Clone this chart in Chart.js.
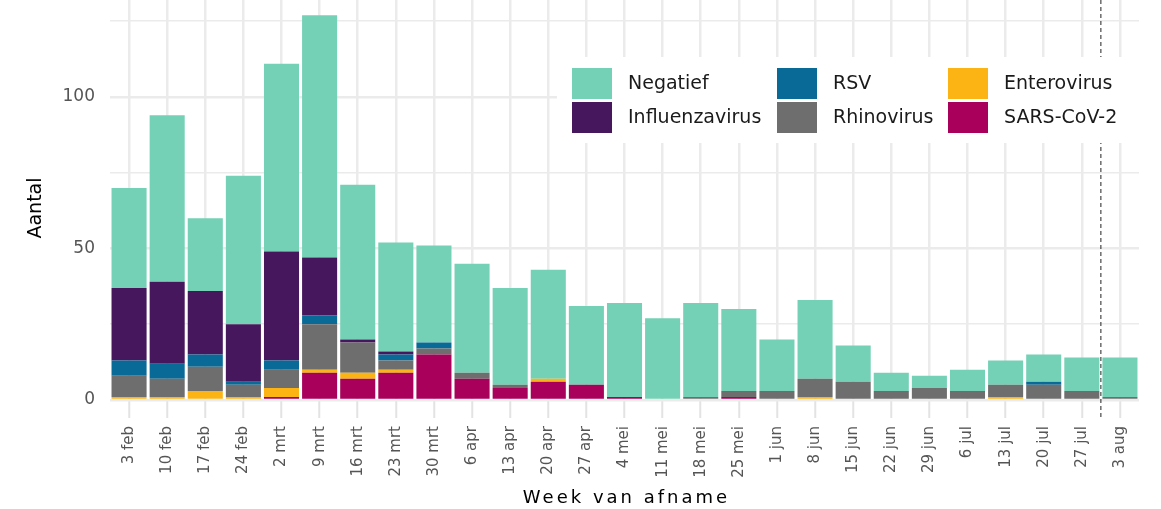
<!DOCTYPE html>
<html>
<head>
<meta charset="utf-8">
<script src="https://cdn.jsdelivr.net/npm/chart.js@4"></script>
<style>
  body { margin: 0; background: #fff; }
  #Wrap { width: 1161px; height: 509px; position: relative; }
</style>
</head>
<body>
<div id="Wrap"><canvas id="myChart"></canvas></div>
<script>
// * Data
const weeks = ["3 feb", "10 feb", "17 feb", "24 feb", "2 mrt", "9 mrt", "16 mrt", "23 mrt", "30 mrt",
  "6 apr", "13 apr", "20 apr", "27 apr", "4 mei", "11 mei", "18 mei", "25 mei", "1 jun", "8 jun",
  "15 jun", "22 jun", "29 jun", "6 jul", "13 jul", "20 jul", "27 jul", "3 aug"];

const sarsCov2 = [0, 0, 0, 0, 1, 9, 7, 9, 15, 7, 4, 6, 5, 1, 0, 0, 1, 0, 0, 0, 0, 0, 0, 0, 0, 0, 0];
const enterovirus = [1, 1, 3, 1, 3, 1, 2, 1, 0, 0, 0, 1, 0, 0, 0, 0, 0, 0, 1, 0, 0, 0, 0, 1, 0, 0, 0];
const rhinovirus = [7, 6, 8, 4, 6, 15, 10, 3, 2, 2, 1, 0, 0, 0, 0, 1, 2, 3, 6, 6, 3, 4, 3, 4, 5, 3, 1];
const rsv = [5, 5, 4, 1, 3, 3, 0, 2, 2, 0, 0, 0, 0, 0, 0, 0, 0, 0, 0, 0, 0, 0, 0, 0, 1, 0, 0];
const influenzavirus = [24, 27, 21, 19, 36, 19, 1, 1, 0, 0, 0, 0, 0, 0, 0, 0, 0, 0, 0, 0, 0, 0, 0, 0, 0, 0, 0];
const negatief = [33, 55, 24, 49, 62, 80, 51, 36, 32, 36, 32, 36, 26, 31, 27, 31, 27, 17, 26, 12, 6, 4, 7, 8, 9, 11, 13];

const yTicks = [0, 25, 50, 75, 100, 125];
const yLabels = [0, 50, 100];
const cutoffWeek = 25.5; // dashed line between 27 jul and 3 aug

// * Styles
const FONT = "'DejaVu Sans', sans-serif";
const colors = {
  Negatief: "#74d1b5",
  Influenzavirus: "#46175c",
  RSV: "#096a98",
  Rhinovirus: "#6e6e6e",
  Enterovirus: "#fcb414",
  "SARS-CoV-2": "#a8005b",
};

function makeSet(label, data) {
  return {
    label: label,
    data: data,
    backgroundColor: colors[label],
    borderWidth: 0,
    barPercentage: 0.92,
    categoryPercentage: 1,
  };
}

// * Plugins
const extras = {
  id: "extras",
  afterDatasetsDraw(chart) {
    const ctx = chart.ctx;
    const x = chart.scales.x.getPixelForValue(cutoffWeek);
    ctx.save();
    ctx.strokeStyle = "#222";
    ctx.lineWidth = 1;
    ctx.setLineDash([4, 3]);
    ctx.beginPath();
    ctx.moveTo(x, chart.chartArea.top);
    ctx.lineTo(x, chart.chartArea.bottom + 19);
    ctx.stroke();
    ctx.restore();
  },
  afterDraw(chart) {
    const ctx = chart.ctx;
    const area = chart.chartArea;
    ctx.save();

    // legend box
    ctx.fillStyle = "#fff";
    ctx.fillRect(557, 57, 586, 86);
    const order = ["Negatief", "Influenzavirus", "RSV", "Rhinovirus", "Enterovirus", "SARS-CoV-2"];
    const colX = [572, 777, 948];
    const rowY = [68, 102];
    ctx.font = "19px " + FONT;
    ctx.textBaseline = "middle";
    ctx.textAlign = "left";
    order.forEach((name, i) => {
      const cx = colX[Math.floor(i / 2)];
      const cy = rowY[i % 2];
      ctx.fillStyle = colors[name];
      ctx.fillRect(cx, cy, 40, 31);
      ctx.fillStyle = "#1a1a1a";
      ctx.fillText(name, cx + 56, cy + 16);
    });

    // axis titles
    ctx.fillStyle = "#000";
    ctx.font = "18px " + FONT;
    ctx.textAlign = "center";
    ctx.letterSpacing = "3px";
    ctx.fillText("Week van afname", (area.left + area.right) / 2 + 2, 498);
    ctx.letterSpacing = "0px";
    ctx.translate(36, 208);
    ctx.rotate(-Math.PI / 2);
    ctx.font = "19px " + FONT;
    ctx.fillText("Aantal", 0, 0);
    ctx.restore();
  },
};

// * Chart
const Canvas = document.getElementById("myChart").getContext("2d");

const myChart = new Chart(Canvas, {
  type: "bar",
  data: {
    labels: weeks,
    datasets: [
      makeSet("SARS-CoV-2", sarsCov2),
      makeSet("Enterovirus", enterovirus),
      makeSet("Rhinovirus", rhinovirus),
      makeSet("RSV", rsv),
      makeSet("Influenzavirus", influenzavirus),
      makeSet("Negatief", negatief),
    ],
  },
  options: {
    responsive: true,
    maintainAspectRatio: false,
    animation: false,
    layout: { padding: { left: 0, right: 22, top: 0, bottom: 0 } },
    plugins: {
      legend: { display: false },
      tooltip: { enabled: false },
    },
    scales: {
      x: {
        stacked: true,
        offset: true,
        border: { display: false },
        grid: {
          offset: false,
          color: "#ebebeb",
          lineWidth: 2.5,
          drawTicks: true,
          tickLength: 18,
          tickColor: "#e3e3e3",
          tickWidth: 2,
        },
        ticks: {
          minRotation: 90,
          maxRotation: 90,
          autoSkip: false,
          padding: 8,
          color: "#555",
          font: { family: FONT, size: 15 },
        },
        afterFit(s) {
          s.height = 109;
          s.paddingLeft = 0;
          s.paddingRight = 0;
        },
      },
      y: {
        stacked: true,
        min: 0,
        max: 132,
        border: { display: false },
        grid: {
          color: "#ebebeb",
          lineWidth: (c) => (yLabels.includes(c.tick.value) ? 2.5 : 1.5),
          drawTicks: false,
        },
        ticks: {
          padding: 15,
          color: "#555",
          font: { family: FONT, size: 17 },
          callback: (v) => (yLabels.includes(v) ? String(v) : ""),
        },
        afterBuildTicks(s) {
          s.ticks = yTicks.map((v) => ({ value: v }));
        },
        afterFit(s) {
          s.width = 110;
          s.paddingTop = 0;
          s.paddingBottom = 0;
        },
      },
    },
  },
  plugins: [extras],
});
</script>
</body>
</html>
